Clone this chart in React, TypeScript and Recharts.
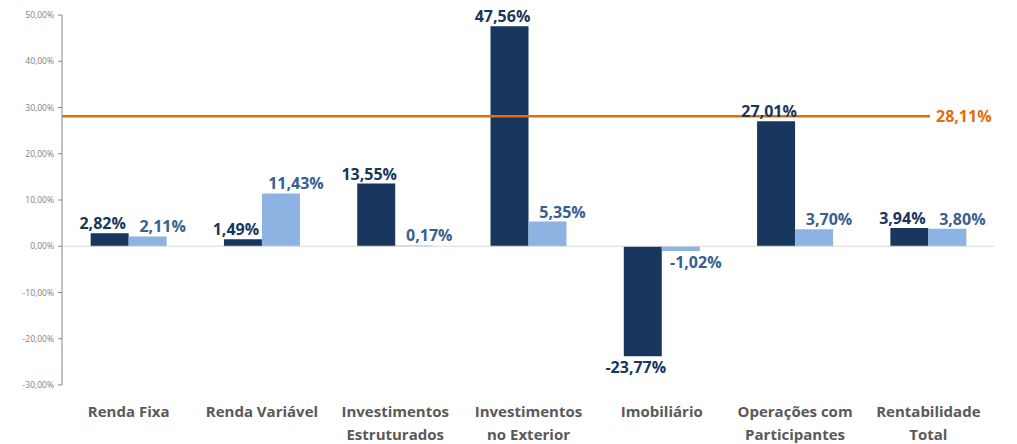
import React from 'react';
import { BarChart, Bar, XAxis, YAxis, ReferenceLine, LabelList } from 'recharts';

const categories = [
  'Renda Fixa',
  'Renda Variável',
  'Investimentos\nEstruturados',
  'Investimentos\nno Exterior',
  'Imobiliário',
  'Operações com\nParticipantes',
  'Rentabilidade\nTotal',
];
const seriesA = [2.82, 1.49, 13.55, 47.56, -23.77, 27.01, 3.94];
const seriesB = [2.11, 11.43, 0.17, 5.35, -1.02, 3.7, 3.8];
const benchmark = 28.11;
const yTicks = [-30, -20, -10, 0, 10, 20, 30, 40, 50];

const data = categories.map((c, i) => ({ name: c, a: seriesA[i], b: seriesB[i] }));

const DARK = '#17375e';
const LIGHT = '#8db3e2';
const LIGHT_TEXT = '#376092';
const ORANGE = '#e46c0a';
const FONT = '"Open Sans", sans-serif';

const fmt = (v: number) => v.toFixed(2).replace('.', ',') + '%';

const makeLabel = (color: string, dx: number) => (props: any) => {
  const { x, y, width, height, value } = props;
  const top = Math.min(y, y + height);
  const bottom = Math.max(y, y + height);
  const v = Number(value);
  const ty = v >= 0 ? top - 4 : bottom + 17;
  return (
    <text
      x={x + width / 2 + dx}
      y={ty}
      textAnchor="middle"
      fill={color}
      fontFamily={FONT}
      fontWeight={700}
      fontSize={16}
    >
      {fmt(v)}
    </text>
  );
};

const CategoryTick = (props: any) => {
  const { x, y, payload } = props;
  const lines = String(payload.value).split('\n');
  return (
    <text
      x={x}
      textAnchor="middle"
      fill="#595959"
      fontFamily={FONT}
      fontWeight={700}
      fontSize={15}
    >
      {lines.map((l, i) => (
        <tspan key={i} x={x} y={y + 24 + i * 23}>
          {l}
        </tspan>
      ))}
    </text>
  );
};

const BenchmarkShape = (props: any) => {
  const { x1, y1, x2 } = props;
  return (
    <g>
      <line x1={x1} y1={y1} x2={x2 - 65} y2={y1} stroke={ORANGE} strokeWidth={2.5} />
      <text
        x={x2 - 59}
        y={y1 + 6}
        fill={ORANGE}
        fontFamily={FONT}
        fontWeight={700}
        fontSize={16}
      >
        {fmt(benchmark)}
      </text>
    </g>
  );
};

export default function App() {
  return (
    <div style={{ position: 'absolute', left: 0, top: 0, background: '#fff' }}>
      <BarChart
        width={1017}
        height={444}
        data={data}
        margin={{ top: 15, right: 22, bottom: 0, left: 0 }}
        barGap={0}
        barCategoryGap="21.5%"
      >
        <XAxis
          dataKey="name"
          axisLine={false}
          tickLine={false}
          height={59}
          interval={0}
          tick={<CategoryTick />}
        />
        <YAxis
          width={62}
          domain={[-30, 50]}
          ticks={yTicks}
          interval={0}
          tickFormatter={(v: number) => fmt(v)}
          tick={{ fill: '#7f7f7f', fontSize: 8.5, fontFamily: FONT }}
          axisLine={{ stroke: '#868686' }}
          tickLine={{ stroke: '#868686' }}
          tickSize={4}
          tickMargin={4}
        />
        <ReferenceLine y={0} stroke="#d9d9d9" strokeWidth={1} />
        <Bar dataKey="a" fill={DARK} isAnimationActive={false}>
          <LabelList dataKey="a" content={makeLabel(DARK, -7)} />
        </Bar>
        <Bar dataKey="b" fill={LIGHT} isAnimationActive={false}>
          <LabelList dataKey="b" content={makeLabel(LIGHT_TEXT, 15)} />
        </Bar>
        <ReferenceLine y={benchmark} shape={BenchmarkShape} />
      </BarChart>
    </div>
  );
}
